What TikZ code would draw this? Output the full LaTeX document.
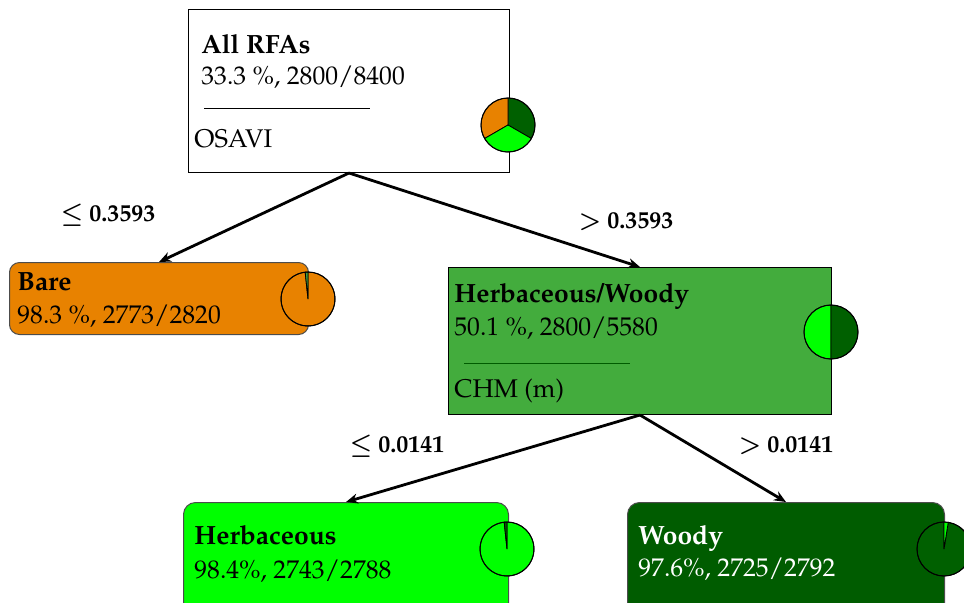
\documentclass[tikz,border=0pt]{standalone}
\usepackage[T1]{fontenc}
\usepackage{mathpazo}
\usetikzlibrary{arrows.meta}

\definecolor{bareorange}{HTML}{E88200}
\definecolor{midgreen}{HTML}{43AC3D}
\definecolor{litegreen}{HTML}{00FF00}
\definecolor{darkgreen}{HTML}{005C00}
\definecolor{piedark}{HTML}{006000}
\definecolor{sliver}{HTML}{3FA03F}

% pie chart: centre, list of start/end/colour slices
\newcommand\drawpie[2]{%
  \foreach \a/\b/\c in {#2}{%
    \filldraw[fill=\c, draw=black, line width=0.4pt]
      (#1) -- ++(\a:13.5pt) arc[start angle=\a, end angle=\b, radius=13.5pt] -- cycle;
  }%
  \draw[line width=0.5pt] (#1) circle[radius=13.5pt];
}

\begin{document}
\begin{tikzpicture}[x=0.5pt, y=-0.5pt,
  box/.style={draw=black, line width=0.5pt, anchor=north west, inner sep=0pt},
  title/.style={anchor=base west, inner sep=0pt, font=\fontsize{13.2}{15}\selectfont\bfseries},
  info/.style={anchor=base west, inner sep=0pt, font=\fontsize{12.8}{15}\selectfont},
  cond/.style={inner sep=0pt, font=\fontsize{12}{14}\selectfont\bfseries\boldmath},
  edge/.style={line width=1.4pt, -{Stealth[length=6pt, width=5pt]}},
  sep/.style={line width=0.5pt}
]
\useasboundingbox (0,0) rectangle (964,602);

% decision and leaf boxes
\node[box, fill=white, minimum width=160.5pt, minimum height=81.5pt] (root) at (188,9) {};
\node[box, fill=bareorange, draw=black!70, rounded corners=5pt,
      minimum width=149.5pt, minimum height=36pt] (bare) at (9,262) {};
\node[box, fill=midgreen, minimum width=191.5pt, minimum height=73.5pt] (hw) at (448,267) {};
\node[box, fill=litegreen, draw=black!70, rounded corners=6pt,
      minimum width=162.5pt, minimum height=60pt] (herb) at (183,502) {};
\node[box, fill=darkgreen, draw=black!70, rounded corners=6pt,
      minimum width=158.5pt, minimum height=60pt] (woody) at (627,502) {};

% root texts
\node[title] (t1) at (201,53) {All RFAs};
\node[info]  (i1) at (201,84) {33.3 \%, 2800/8400};
\draw[sep] (204,108) -- (370,108);
\node[info]  (v1) at (194,147) {OSAVI};

% bare texts
\node[title] (t2) at (17,290) {Bare};
\node[info]  (i2) at (17,323) {98.3 \%, 2773/2820};

% herbaceous/woody texts
\node[title] (t3) at (454,302) {Herbaceous/Woody};
\node[info]  (i3) at (454,335) {50.1 \%, 2800/5580};
\draw[sep, draw=darkgreen] (464,363) -- (630,363);
\node[info]  (v3) at (454,397) {CHM (m)};

% herbaceous texts
\node[title] (t4) at (194,544) {Herbaceous};
\node[info]  (i4) at (194,578) {98.4\%, 2743/2788};

% woody texts
\node[title, text=white] (t5) at (638,544) {Woody};
\node[info, text=white]  (i5) at (638,576) {97.6\%, 2725/2792};

% connectors
\draw[edge] (root.south) -- (bare.north);
\draw[edge] (root.south) -- (hw.north);
\draw[edge] (hw.south) -- (herb.north);
\draw[edge] (hw.south) -- (woody.north);

% split conditions
\node[cond] (c1) at (108,215) {$\leq$ 0.3593};
\node[cond] (c2) at (626,222) {$>$ 0.3593};
\node[cond] (c3) at (397,446) {$\leq$ 0.0141};
\node[cond] (c4) at (786,446) {$>$ 0.0141};

% class proportion pies
\drawpie{508,125}{-30/90/piedark, 90/210/bareorange, 210/330/litegreen}
\drawpie{308,299}{96/450/bareorange, 90/96/sliver}
\drawpie{831,332}{90/270/litegreen, 270/450/piedark}
\drawpie{507,549}{96/450/litegreen, 90/96/piedark}
\drawpie{944,549}{90/441/piedark, 81/90/litegreen}
\end{tikzpicture}
\end{document}
